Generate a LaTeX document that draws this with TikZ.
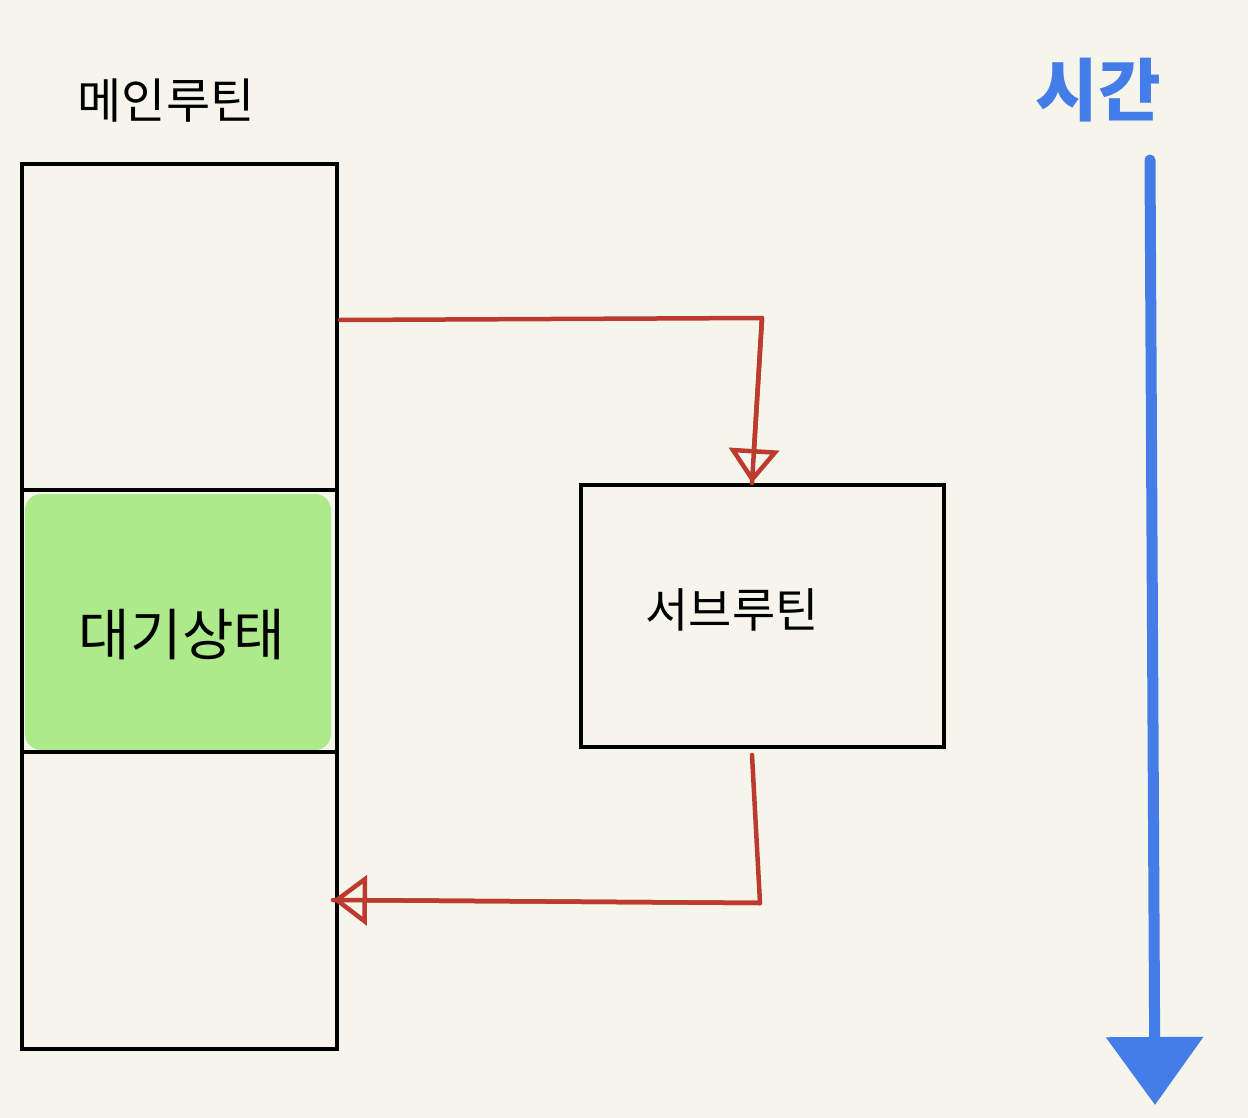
\documentclass[tikz,border=0pt]{standalone}
\usepackage{fontspec}
\newfontfamily\kr{Noto Sans CJK KR}
\usetikzlibrary{arrows.meta}
\definecolor{bg}{HTML}{F6F5EC}
\definecolor{waitgreen}{HTML}{ADEB8A}
\definecolor{callred}{HTML}{BC3B2E}
\definecolor{timeblue}{HTML}{447DE8}
\tikzset{
  boxline/.style={draw=black, line width=4pt},
  redline/.style={draw=callred, line width=4.5pt, line join=round, line cap=round},
  callarrow/.style={redline,
    -{Triangle[open, length=34pt, width=50pt, line width=4.5pt]}},
  lbl/.style={font=\kr, text=black, inner sep=0pt}
}
\begin{document}
\begin{tikzpicture}[x=1pt, y=-1pt]
\fill[bg] (0,0) rectangle (1248,1118);
\useasboundingbox (0,0) rectangle (1248,1118);
% main routine column
\fill[waitgreen, rounded corners=16pt] (25,494) rectangle (331,750);
\node[boxline, minimum width=315pt, minimum height=885pt, anchor=north west, inner sep=0pt] (main) at (20,162) {};
\coordinate (d1l) at (20,490); \coordinate (d1r) at (335,490);
\coordinate (d2l) at (20,752); \coordinate (d2r) at (335,752);
\draw[black, line width=4pt] (d1l) -- (d1r);
\draw[black, line width=4pt] (d2l) -- (d2r);
\node[lbl, font=\kr\fontsize{48}{52}\selectfont] (mainlbl) at (166,101) {메인루틴};
\node[lbl, font=\kr\fontsize{56}{60}\selectfont] (wait) at (182,635) {대기상태};
% sub routine
\node[boxline, minimum width=363pt, minimum height=262pt, anchor=north west, inner sep=0pt] (sub) at (579,483) {};
\node[lbl, font=\kr\fontsize{47}{50}\selectfont] (sublbl) at (732,610) {서브루틴};
% call arrows
\coordinate (c1s) at (340,320);
\coordinate (c1c) at (762,318);
\coordinate (c1t) at (752,483);
\draw[callarrow] (c1s) -- (c1c) -- (c1t);
\draw[redline] (c1c) -- (c1t);
\coordinate (c2s) at (752,755);
\coordinate (c2c) at (760,903);
\coordinate (c2t) at (333,900);
\draw[callarrow] (c2s) -- (c2c) -- (c2t);
\draw[redline] (c2c) -- (c2t);
% time arrow
\node[font=\kr\bfseries\fontsize{68}{72}\selectfont, text=timeblue, inner sep=0pt] (time) at (1098,90) {시간};
\coordinate (ts) at (1150,160);
\coordinate (te) at (1155,1105);
\draw[timeblue, line width=11pt, line cap=round, -{Triangle[length=68pt, width=95pt]}] (ts) -- (te);
\end{tikzpicture}
\end{document}
